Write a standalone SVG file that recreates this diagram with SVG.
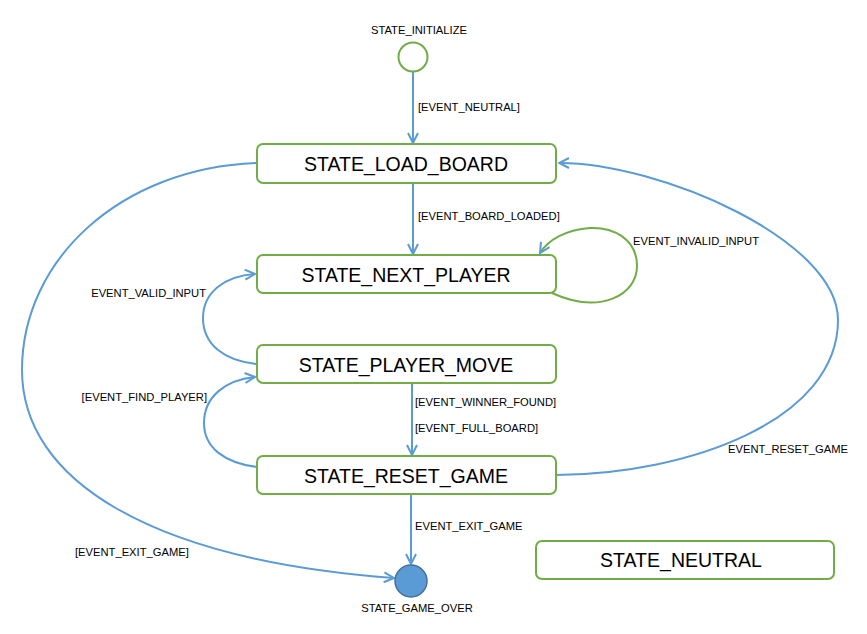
<svg xmlns="http://www.w3.org/2000/svg" width="867" height="634" viewBox="0 0 867 634">
<style>
.st{fill:#fff;stroke:#70AD47;stroke-width:2}
.big{font-family:"Liberation Sans",Arial,sans-serif;font-size:19.5px;fill:#000;text-anchor:middle}
.lbl{font-family:"Liberation Sans",Arial,sans-serif;font-size:11.2px;fill:#000}
.c{fill:none;stroke:#5B9BD5;stroke-width:2;marker-end:url(#ah)}
.cg{fill:none;stroke:#70AD47;stroke-width:2;marker-end:url(#ah)}
</style>
<defs>
<marker id="ah" viewBox="0 0 12 12" refX="11" refY="6" markerWidth="12" markerHeight="12" markerUnits="userSpaceOnUse" orient="auto">
<path d="M1,1 L11,6 L1,11" fill="none" stroke="#5B9BD5" stroke-width="2"/>
</marker>
</defs>
<rect width="867" height="634" fill="#fff"/>
<g id="connectors">
<path class="c" d="M413,72 L413,143"/>
<path class="c" d="M413,183 L413,254"/>
<path class="cg" d="M552,293 C600,315 637,295 637,266 C637,238 612,227 590,228 C565,230 548,240 540,253"/>
<path class="c" d="M257,364 C225,361 203,345 203,318 C203,292 225,276 255,274"/>
<path class="c" d="M412,384 L412,455"/>
<path class="c" d="M257,467 C225,463 204,448 204,423 C204,397 225,380 255,377"/>
<path class="c" d="M411,495 L411,564"/>
<path class="c" d="M257,163 C120,168 22,260 22,370 C22,480 150,560 394,578"/>
<path class="c" d="M556,475 C690,474 838,420 838,320 C838,240 660,163 559,163"/>
<text class="lbl" x="418" y="111">[EVENT_NEUTRAL]</text>
<text class="lbl" x="418" y="220">[EVENT_BOARD_LOADED]</text>
<text class="lbl" x="633" y="245">EVENT_INVALID_INPUT</text>
<text class="lbl" x="206" y="297" text-anchor="end">EVENT_VALID_INPUT</text>
<text class="lbl" x="207" y="401" text-anchor="end">[EVENT_FIND_PLAYER]</text>
<text class="lbl" x="415" y="406">[EVENT_WINNER_FOUND]</text>
<text class="lbl" x="415" y="432">[EVENT_FULL_BOARD]</text>
<text class="lbl" x="415" y="530">EVENT_EXIT_GAME</text>
<text class="lbl" x="728" y="453">EVENT_RESET_GAME</text>
<text class="lbl" x="75" y="556">[EVENT_EXIT_GAME]</text>
</g>
<g id="state_initialize">
<circle cx="413" cy="57" r="14.5" fill="#fff" stroke="#70AD47" stroke-width="2"/>
<text class="lbl" x="419" y="34" text-anchor="middle">STATE_INITIALIZE</text>
</g>
<g id="state_load_board">
<rect class="st" x="257" y="144" width="299" height="39" rx="6"/>
<text class="big" x="406" y="171">STATE_LOAD_BOARD</text>
</g>
<g id="state_next_player">
<rect class="st" x="257" y="255" width="299" height="38" rx="6"/>
<text class="big" x="406" y="282">STATE_NEXT_PLAYER</text>
</g>
<g id="state_player_move">
<rect class="st" x="257" y="345" width="299" height="38" rx="6"/>
<text class="big" x="406" y="372">STATE_PLAYER_MOVE</text>
</g>
<g id="state_reset_game">
<rect class="st" x="257" y="456" width="299" height="38" rx="6"/>
<text class="big" x="406" y="483">STATE_RESET_GAME</text>
</g>
<g id="state_neutral">
<rect class="st" x="536" y="541" width="298" height="38" rx="6"/>
<text class="big" x="681" y="567">STATE_NEUTRAL</text>
</g>
<g id="state_game_over">
<circle cx="411" cy="581" r="16" fill="#5B9BD5" stroke="#41719C" stroke-width="1.5"/>
<text class="lbl" x="417" y="612" text-anchor="middle">STATE_GAME_OVER</text>
</g>
</svg>
